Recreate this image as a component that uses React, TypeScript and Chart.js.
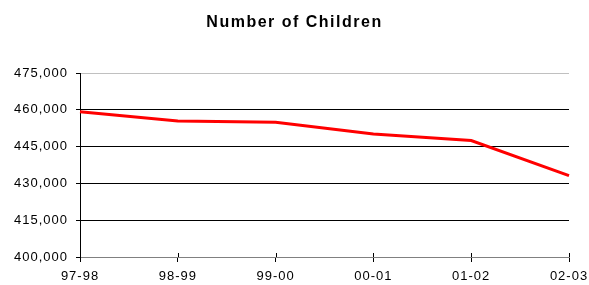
import React, { useEffect, useRef } from "react";
import { Chart, registerables } from "chart.js";

Chart.register(...registerables);

const categories = ["97-98", "98-99", "99-00", "00-01", "01-02", "02-03"];
const children = [459200, 455400, 454900, 450100, 447500, 433200];
const titleText = "Number of Children";
const yMin = 400000;
const yMax = 475000;
const yStep = 15000;

const FONT = "'Liberation Sans', Arial, sans-serif";

export default function App() {
  const ref = useRef<HTMLCanvasElement | null>(null);

  useEffect(() => {
    document.body.style.margin = "0";
    const canvas = ref.current;
    if (!canvas) return;

    const spacingPlugin = {
      id: "spacing",
      beforeDraw(chart: any) {
        chart.ctx.letterSpacing = "1px";
      },
      afterDraw(chart: any) {
        const ctx = chart.ctx;
        const xs = chart.scales.x;
        const area = chart.chartArea;
        ctx.save();
        ctx.strokeStyle = "#000";
        ctx.lineWidth = 1;
        ctx.beginPath();
        for (let i = 0; i < xs.ticks.length; i++) {
          const px = Math.round(xs.getPixelForTick(i)) + 0.5;
          ctx.moveTo(px, area.bottom - 4);
          ctx.lineTo(px, area.bottom);
        }
        ctx.stroke();
        ctx.letterSpacing = "1.5px";
        ctx.font = `bold 16px ${FONT}`;
        ctx.fillStyle = "#000";
        ctx.textAlign = "center";
        ctx.textBaseline = "alphabetic";
        ctx.fillText(titleText, chart.width / 2, 27);
        ctx.restore();
      },
    };

    const chart = new Chart(canvas, {
      type: "line",
      data: {
        labels: categories,
        datasets: [
          {
            data: children,
            borderColor: "#ff0000",
            borderWidth: 3,
            pointRadius: 0,
            tension: 0,
            fill: false,
          },
        ],
      },
      options: {
        responsive: false,
        animation: false,
        layout: { padding: { top: 73, right: 20, left: 0, bottom: 0 } },
        plugins: {
          legend: { display: false },
          title: { display: false },
          tooltip: { enabled: false },
        },
        scales: {
          x: {
            offset: false,
            grid: {
              drawOnChartArea: false,
              drawTicks: true,
              tickLength: 5,
              tickColor: "#000",
            },
            border: { color: "#808080", width: 1 },
            ticks: {
              color: "#000",
              font: { family: FONT, size: 13 },
              padding: 7,
              autoSkip: false,
              maxRotation: 0,
            },
            afterFit(scale: any) {
              scale.height = 28;
              scale.paddingLeft = 0;
              scale.paddingRight = 0;
            },
          },
          y: {
            min: yMin,
            max: yMax,
            grid: {
              color: (c: any) =>
                c.tick && c.tick.value === yMax
                  ? "#c0c0c0"
                  : c.tick && c.tick.value === yMin
                  ? "#808080"
                  : "#000",
              tickColor: "#000",
              tickLength: 4,
              lineWidth: 1,
            },
            border: { color: "#000", width: 1 },
            ticks: {
              stepSize: yStep,
              color: "#000",
              font: { family: FONT, size: 13 },
              padding: 8,
              callback: (v: any) => Number(v).toLocaleString("en-US"),
            },
            afterFit(scale: any) {
              scale.width = 80;
              scale.paddingTop = 0;
              scale.paddingBottom = 0;
            },
          },
        },
      },
      plugins: [spacingPlugin],
    });

    return () => chart.destroy();
  }, []);

  return (
    <div style={{ width: 589, height: 285 }}>
      <canvas ref={ref} width={589} height={285} style={{ display: "block" }} />
    </div>
  );
}
